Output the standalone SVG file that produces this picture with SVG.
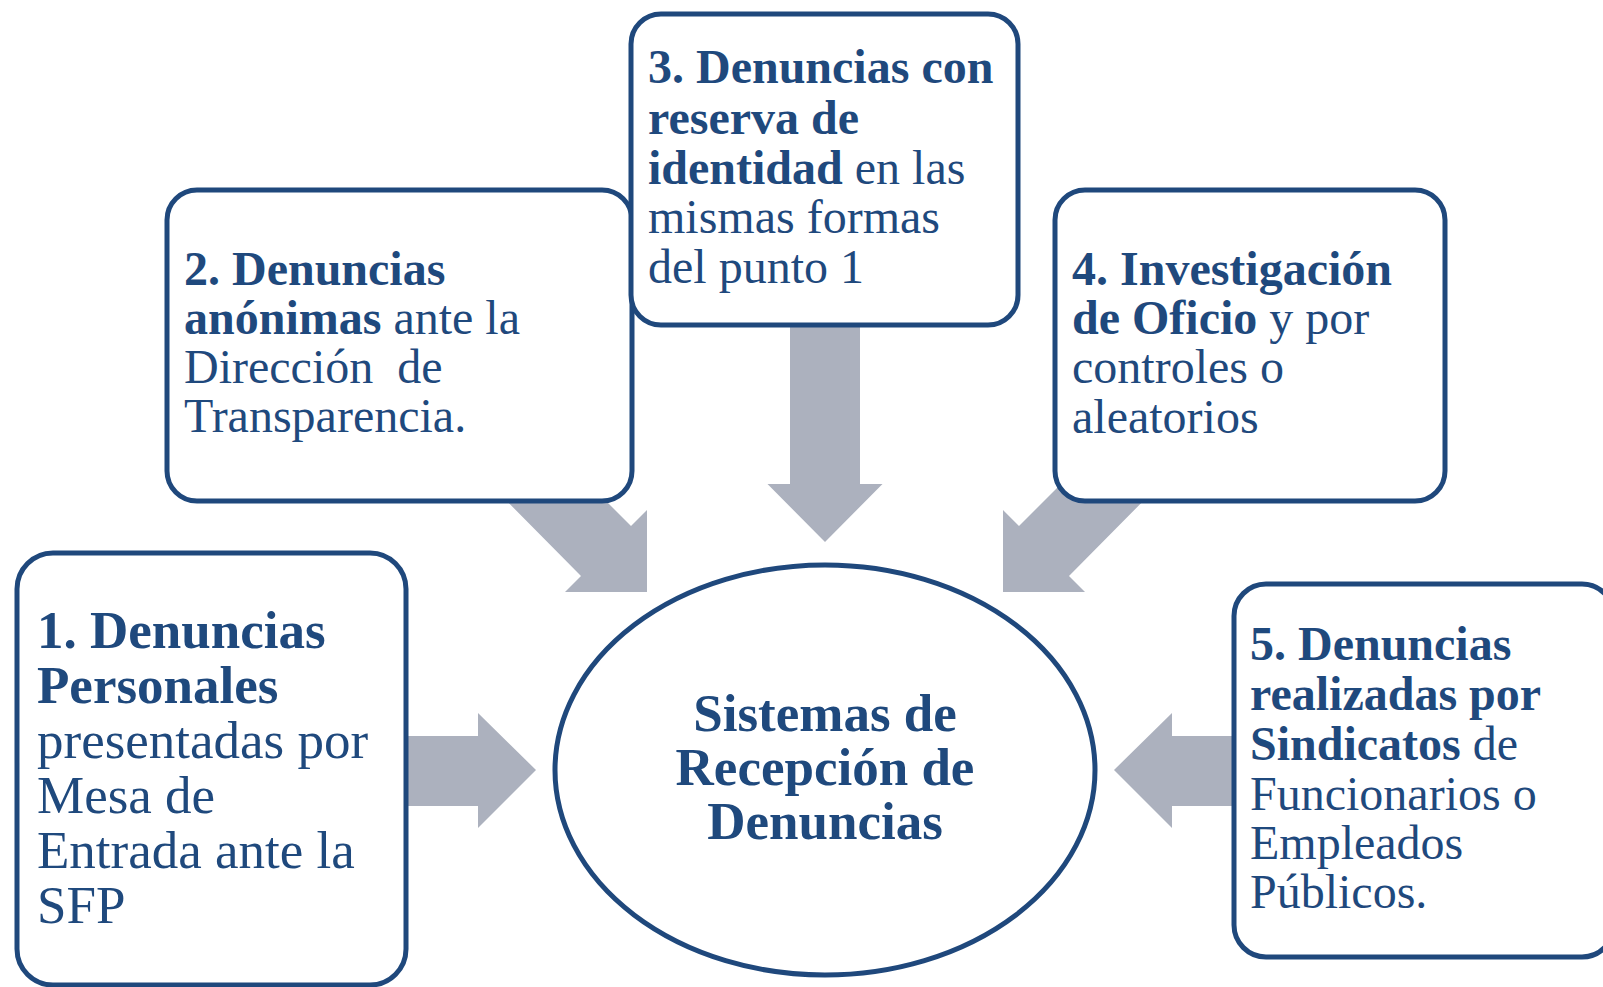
<svg xmlns="http://www.w3.org/2000/svg" width="1603" height="987" viewBox="0 0 1603 987">
<style>
.box{fill:#fff;stroke:#1F487C;stroke-width:5}
.arr{fill:#ACB1BE}
.t{font-family:"Liberation Serif","Times New Roman",serif;fill:#1F497D;white-space:pre}
.b{font-weight:bold}
</style>
<rect width="1603" height="987" fill="#fff"/>
<g id="connectors">
<polygon class="arr" points="400,736 478,736 478,713 536,770 478,828 478,806 400,806"/>
<polygon class="arr" points="1240,736 1172,736 1172,713 1114,770 1172,828 1172,806 1240,806"/>
<polygon class="arr" points="790,320 860,320 860,484 882.5,484 825,542 767.5,484 790,484"/>
<polygon class="arr" points="486,480 585,480 631,526 647,510 647,592 565,592 581,576"/>
<polygon class="arr" points="1164,480 1065,480 1019,526 1003,510 1003,592 1085,592 1069,576"/>
</g>
<g id="node-center">
<ellipse class="box" cx="825" cy="770" rx="270" ry="205"/>
<text class="t b" font-size="53" text-anchor="middle"><tspan x="825" y="731">Sistemas de</tspan><tspan x="825" y="785">Recepción de</tspan><tspan x="825" y="839">Denuncias</tspan></text>
</g>
<g id="node-1">
<rect class="box" x="17" y="553" width="389" height="432" rx="36"/>
<text class="t" font-size="53"><tspan x="37" y="648" class="b">1. Denuncias</tspan><tspan x="37" y="703" class="b">Personales</tspan><tspan x="37" y="758">presentadas por</tspan><tspan x="37" y="813">Mesa de</tspan><tspan x="37" y="868">Entrada ante la</tspan><tspan x="37" y="923">SFP</tspan></text>
</g>
<g id="node-2">
<rect class="box" x="167" y="190" width="465" height="311" rx="30"/>
<text class="t" font-size="48"><tspan x="184" y="285" class="b">2. Denuncias</tspan><tspan x="184" y="334" class="b">anónimas</tspan><tspan> ante la</tspan><tspan x="184" y="383">Dirección  de</tspan><tspan x="184" y="432">Transparencia.</tspan></text>
</g>
<g id="node-3">
<rect class="box" x="631" y="14" width="387" height="311" rx="30"/>
<text class="t" font-size="48"><tspan x="648" y="83" class="b">3. Denuncias con</tspan><tspan x="648" y="134" class="b">reserva de</tspan><tspan x="648" y="184" class="b">identidad</tspan><tspan> en las</tspan><tspan x="648" y="233">mismas formas</tspan><tspan x="648" y="283">del punto 1</tspan></text>
</g>
<g id="node-4">
<rect class="box" x="1055" y="190" width="390" height="311" rx="30"/>
<text class="t" font-size="48"><tspan x="1072" y="285" class="b">4. Investigación</tspan><tspan x="1072" y="334" class="b">de Oficio</tspan><tspan> y por</tspan><tspan x="1072" y="383">controles o</tspan><tspan x="1072" y="433">aleatorios</tspan></text>
</g>
<g id="node-5">
<rect class="box" x="1234" y="584" width="380" height="373" rx="32"/>
<text class="t" font-size="48"><tspan x="1250" y="660" class="b">5. Denuncias</tspan><tspan x="1250" y="710" class="b">realizadas por</tspan><tspan x="1250" y="760" class="b">Sindicatos</tspan><tspan> de</tspan><tspan x="1250" y="810">Funcionarios o</tspan><tspan x="1250" y="859">Empleados</tspan><tspan x="1250" y="908">Públicos.</tspan></text>
</g>
</svg>
